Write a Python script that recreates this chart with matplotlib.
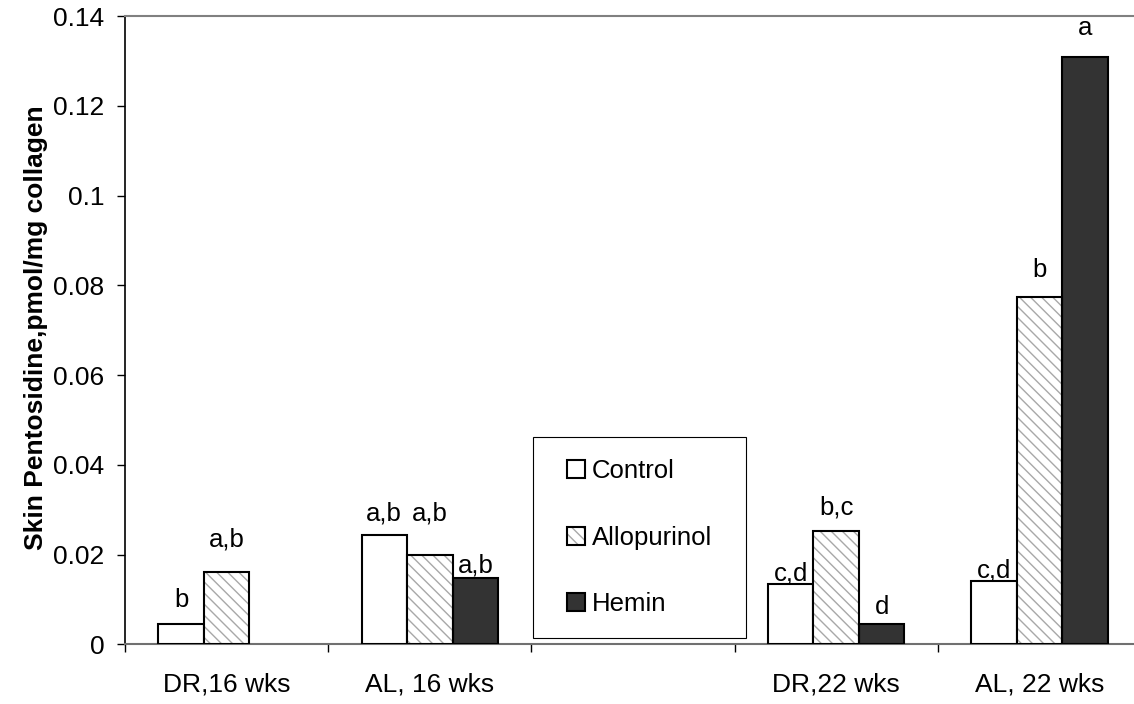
import matplotlib
matplotlib.use("Agg")
import matplotlib.pyplot as plt
from matplotlib.patches import Rectangle, Patch
import numpy as np

plt.rcParams['font.family'] = ['Liberation Sans', 'DejaVu Sans']

# data
groups = ["DR,16 wks", "AL, 16 wks", "", "DR,22 wks", "AL, 22 wks"]
series = ["Control", "Allopurinol", "Hemin"]
control = [0.0045, 0.0244, np.nan, 0.0134, 0.0140]
allopurinol = [0.0162, 0.0200, np.nan, 0.0253, 0.0773]
hemin = [np.nan, 0.0148, np.nan, 0.0045, 0.1308]
letters_control = ["b", "a,b", "", "c,d", "c,d"]
letters_allopurinol = ["a,b", "a,b", "", "b,c", "b"]
letters_hemin = ["", "a,b", "", "d", "a"]

# label offsets above bar tops (pixels) - hand placed like the original
off_control = [24, 21, 0, 11, 11]
off_allopurinol = [32, 41, 0, 23, 27]
off_hemin = [0, 12, 0, 17, 29]

fs = 18.5
fig = plt.figure(figsize=(11.34, 7.04), dpi=100)
ax = fig.add_axes([125 / 1134, 59.7 / 704, 1016 / 1134, 628.3 / 704])

x = np.arange(len(groups))
w = 0.224
hatch_col = '#a8a8a8'

b_ctrl = ax.bar(x - w, control, w, facecolor='white', edgecolor='black', lw=1.5, zorder=3)
b_allo_h = ax.bar(x, allopurinol, w, facecolor='white', edgecolor=hatch_col, lw=0,
                  hatch='\\\\\\', zorder=3)
b_allo = ax.bar(x, allopurinol, w, facecolor='none', edgecolor='black', lw=1.5, zorder=4)
b_hem = ax.bar(x + w, hemin, w, facecolor='#333333', edgecolor='black', lw=1.5, zorder=3)

for xs, vals, labs, offs in [(x - w, control, letters_control, off_control),
                             (x, allopurinol, letters_allopurinol, off_allopurinol),
                             (x + w, hemin, letters_hemin, off_hemin)]:
    for xi, v, lab, o in zip(xs, vals, labs, offs):
        if lab:
            ax.annotate(lab, (xi, v), xytext=(0, o * 0.72), textcoords='offset points',
                        ha='center', va='center', fontsize=fs)

ax.set_xlim(-0.5, 4.5)
ax.set_ylim(0, 0.14)
ax.set_yticks(np.arange(0, 0.141, 0.02))
ax.set_yticklabels(["0", "0.02", "0.04", "0.06", "0.08", "0.1", "0.12", "0.14"])
ax.set_xticks(np.arange(-0.5, 4.6, 1))
ax.set_xticklabels([])
ax.set_xticks(x, minor=True)
ax.set_xticklabels(groups, minor=True)
ax.tick_params(axis='x', which='minor', length=0, pad=20, labelsize=19)
ax.tick_params(axis='x', which='major', length=6, width=1, color='black', direction='out')
ax.tick_params(axis='y', length=6, width=1, color='black', direction='out', pad=9, labelsize=19)

ax.spines['right'].set_visible(False)
ax.spines['top'].set_color('#808080')
ax.spines['top'].set_linewidth(1.5)
ax.spines['bottom'].set_color('#707070')
ax.spines['bottom'].set_linewidth(1.5)
ax.spines['left'].set_color('black')
ax.spines['left'].set_linewidth(1.2)

ax.set_ylabel("Skin Pentosidine,pmol/mg collagen", fontsize=19, fontweight='bold')
ax.yaxis.set_label_coords(-0.0758, 0.504)

# legend box
fig.patches.append(Rectangle((533 / 1134, (704 - 638) / 704), 213 / 1134, 201 / 704,
                             transform=fig.transFigure, facecolor='white',
                             edgecolor='black', lw=0.8, zorder=5))
handles = [Patch(facecolor='white', edgecolor='black', lw=1.5),
           (Patch(facecolor='white', edgecolor=hatch_col, lw=0, hatch='\\\\\\'),
            Patch(facecolor='none', edgecolor='black', lw=1.5)),
           Patch(facecolor='#333333', edgecolor='black', lw=1.5)]
leg = fig.legend(handles, series, loc='center', bbox_to_anchor=(639.5 / 1134, (704 - 537.5) / 704),
                 frameon=False, fontsize=fs, handlelength=0.7, handleheight=0.7,
                 handletextpad=0.3, labelspacing=1.65)
leg.set_zorder(6)

fig.savefig("out.png", dpi=100)
